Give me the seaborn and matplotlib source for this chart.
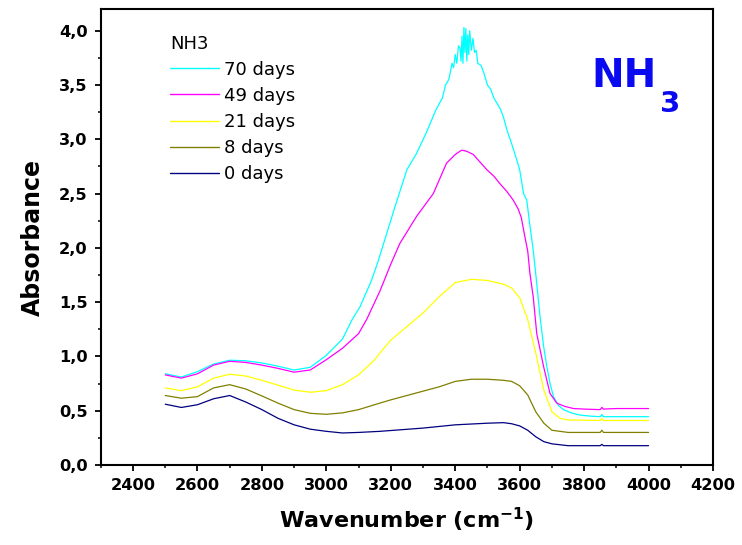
import numpy as np
import pandas as pd
import matplotlib
matplotlib.use("Agg")
import matplotlib.pyplot as plt
from matplotlib.ticker import MultipleLocator, FuncFormatter
import seaborn as sns

# ---- data ----
labels = ["70 days", "49 days", "21 days", "8 days", "0 days"]
colors = ["#00FFFF", "#FF00FF", "#FFFF00", "#808000", "#000080"]

x70 = [2500, 2550, 2600, 2650, 2700, 2750, 2800, 2850, 2900, 2950, 3000, 3050, 3080, 3105,
       3140, 3160, 3210, 3250, 3280, 3310, 3340, 3360, 3370, 3380, 3385, 3390, 3395, 3400,
       3405, 3410, 3415, 3418, 3421, 3424, 3427, 3430, 3433, 3436, 3439, 3442, 3445, 3450,
       3455, 3460, 3465, 3470, 3480, 3490, 3500, 3510, 3520, 3530, 3540, 3550, 3560, 3575,
       3590, 3600, 3612, 3622, 3632, 3642, 3652, 3663, 3674, 3684, 3695, 3705, 3720, 3736,
       3760, 3787, 3820, 3850, 3855, 3860, 3900, 3950, 4000]
y70 = [0.84, 0.81, 0.86, 0.93, 0.965, 0.96, 0.94, 0.91, 0.875, 0.90, 1.01, 1.16, 1.34, 1.46,
       1.70, 1.87, 2.35, 2.72, 2.87, 3.06, 3.27, 3.38, 3.50, 3.55, 3.62, 3.70, 3.66, 3.78,
       3.70, 3.86, 3.84, 3.72, 3.95, 3.70, 4.03, 3.80, 4.02, 3.72, 3.96, 3.78, 4.00, 3.82,
       3.93, 3.80, 3.82, 3.70, 3.68, 3.60, 3.50, 3.46, 3.38, 3.33, 3.28, 3.20, 3.09, 2.96,
       2.82, 2.72, 2.50, 2.44, 2.20, 1.98, 1.70, 1.37, 1.10, 0.91, 0.74, 0.63, 0.55, 0.51,
       0.48, 0.46, 0.45, 0.445, 0.465, 0.445, 0.445, 0.445, 0.445]

x49 = [2500, 2550, 2600, 2650, 2700, 2750, 2800, 2850, 2900, 2950, 3000, 3050, 3100, 3125,
       3166, 3200, 3228, 3280, 3332, 3373, 3400, 3420, 3435, 3456, 3477, 3498, 3520, 3539,
       3560, 3580, 3595, 3605, 3615, 3625, 3632, 3642, 3653, 3674, 3694, 3715, 3740, 3767,
       3800, 3850, 3855, 3860, 3900, 4000]
y49 = [0.83, 0.80, 0.84, 0.92, 0.955, 0.945, 0.92, 0.89, 0.855, 0.875, 0.97, 1.075, 1.21, 1.34,
       1.60, 1.85, 2.04, 2.29, 2.50, 2.78, 2.86, 2.90, 2.89, 2.86, 2.79, 2.72, 2.66, 2.59,
       2.52, 2.44, 2.36, 2.28, 2.12, 1.97, 1.76, 1.55, 1.21, 0.91, 0.66, 0.57, 0.54, 0.52,
       0.515, 0.51, 0.53, 0.515, 0.52, 0.52]

x21 = [2500, 2550, 2600, 2650, 2700, 2750, 2800, 2850, 2900, 2950, 3000, 3050, 3100, 3150,
       3166, 3200, 3250, 3300, 3350, 3400, 3450, 3500, 3550, 3575, 3600, 3625, 3650, 3675,
       3700, 3725, 3750, 3850, 3855, 3860, 4000]
y21 = [0.71, 0.685, 0.72, 0.80, 0.836, 0.82, 0.78, 0.735, 0.69, 0.67, 0.685, 0.74, 0.83, 0.97,
       1.03, 1.15, 1.275, 1.40, 1.55, 1.68, 1.71, 1.70, 1.665, 1.63, 1.54, 1.34, 1.03, 0.69,
       0.49, 0.43, 0.415, 0.41, 0.43, 0.41, 0.41]

x8 = [2500, 2550, 2600, 2650, 2700, 2750, 2800, 2850, 2900, 2950, 3000, 3050, 3100, 3166,
      3200, 3250, 3300, 3350, 3400, 3450, 3500, 3550, 3575, 3600, 3625, 3650, 3675, 3700,
      3750, 3850, 3855, 3860, 4000]
y8 = [0.64, 0.615, 0.63, 0.71, 0.74, 0.70, 0.636, 0.57, 0.51, 0.476, 0.467, 0.48, 0.51, 0.57,
      0.60, 0.64, 0.68, 0.72, 0.77, 0.79, 0.79, 0.78, 0.77, 0.73, 0.645, 0.49, 0.385, 0.32,
      0.30, 0.30, 0.32, 0.30, 0.30]

x0 = [2500, 2550, 2600, 2650, 2700, 2750, 2800, 2850, 2900, 2950, 3000, 3050, 3100, 3166,
      3300, 3400, 3500, 3550, 3575, 3600, 3625, 3650, 3675, 3700, 3750, 3850, 3855, 3860, 4000]
y0 = [0.56, 0.53, 0.555, 0.61, 0.64, 0.58, 0.51, 0.43, 0.37, 0.33, 0.31, 0.295, 0.30, 0.31,
      0.34, 0.37, 0.385, 0.39, 0.38, 0.36, 0.32, 0.26, 0.215, 0.195, 0.178, 0.178, 0.19, 0.178, 0.178]

series_x = [x70, x49, x21, x8, x0]
series_y = [y70, y49, y21, y8, y0]

frames = []
for lab, xs, ys in zip(labels, series_x, series_y):
    frames.append(pd.DataFrame({"Wavenumber": xs, "Absorbance": ys, "Sample": lab}))
df = pd.concat(frames, ignore_index=True)

# ---- style ----
sns.set_theme(style="ticks")
plt.rcParams["font.family"] = ["DejaVu Sans"]
plt.rcParams["text.color"] = "black"
plt.rcParams["axes.labelcolor"] = "black"
plt.rcParams["xtick.color"] = "black"
plt.rcParams["ytick.color"] = "black"

fig = plt.figure(figsize=(7.42, 5.45), dpi=100)
ax = fig.add_axes([100.8 / 742, 1 - 465 / 545, (713 - 100.8) / 742, (465 - 9) / 545])

sns.lineplot(data=df, x="Wavenumber", y="Absorbance", hue="Sample",
             hue_order=labels, palette=colors, sort=False, estimator=None,
             linewidth=0.9, ax=ax)

ax.set_xlim(2300, 4200)
ax.set_ylim(0, 4.2)
ax.xaxis.set_major_locator(MultipleLocator(200))
ax.xaxis.set_minor_locator(MultipleLocator(100))
ax.yaxis.set_major_locator(MultipleLocator(0.5))
ax.yaxis.set_minor_locator(MultipleLocator(0.25))
ax.set_xticks([2400, 2600, 2800, 3000, 3200, 3400, 3600, 3800, 4000, 4200])
ax.yaxis.set_major_formatter(FuncFormatter(lambda v, p: f"{v:.1f}".replace(".", ",")))

for s in ax.spines.values():
    s.set_linewidth(1.5)
    s.set_color("black")
ax.tick_params(axis="both", which="major", direction="out", length=4.5, width=1.3,
               labelsize=11.7, pad=5, top=False, right=False, color="black",
               labelcolor="black")
ax.tick_params(axis="both", which="minor", direction="out", length=2.5, width=1.1,
               top=False, right=False, color="black")
for lbl in ax.get_xticklabels() + ax.get_yticklabels():
    lbl.set_fontweight("bold")

ax.set_xlabel("Wavenumber (cm$^{\\mathbf{-1}}$)", fontsize=16, fontweight="bold",
              labelpad=9, color="black")
ax.set_ylabel("Absorbance", fontsize=17, fontweight="bold", labelpad=10, color="black")

leg = ax.legend(title="NH3", loc="upper left", bbox_to_anchor=(0.113, 0.944),
                frameon=False, fontsize=13, title_fontsize=13, handlelength=2.7,
                handletextpad=0.3, labelspacing=0.45, borderpad=0, borderaxespad=0,
                alignment="left")
for h in leg.get_lines():
    h.set_linewidth(1.0)
for t in leg.get_texts():
    t.set_color("black")
leg.get_title().set_color("black")

ax.text(0.802, 0.828, "NH", transform=ax.transAxes, fontsize=28, fontweight="bold",
        color="#0A0AF0", ha="left", va="baseline")
ax.text(0.914, 0.775, "3", transform=ax.transAxes, fontsize=21, fontweight="bold",
        color="#0A0AF0", ha="left", va="baseline")

fig.savefig("out.png", dpi=100, facecolor="white")
